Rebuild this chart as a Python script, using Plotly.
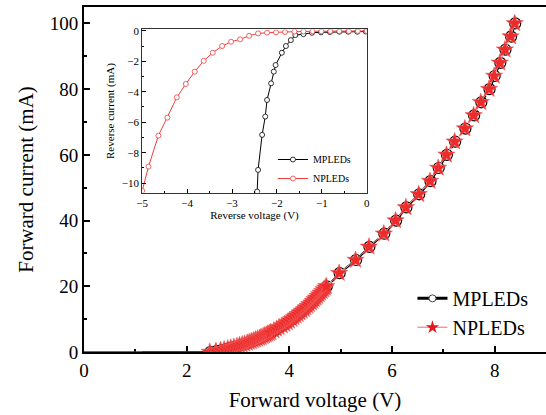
import plotly.graph_objects as go

# ---------------- Main chart: forward I-V ----------------
fwd_current = [0.0, 0.25, 0.5, 0.75, 1.0, 1.25, 1.5, 1.75, 2.0, 2.25, 2.5, 2.75, 3.0,
               3.25, 3.5, 3.75, 4.0, 4.25, 4.5, 4.75, 5.0, 5.25, 5.5, 5.75, 6.0, 6.5,
               7.0, 7.5, 8.0, 8.5, 9.0, 9.5, 10.0, 10.5, 11.0, 11.5, 12.0, 12.5, 13.0,
               13.5, 14.0, 14.5, 15.0, 15.5, 16.0, 16.5, 17.0, 17.5, 18.0, 18.5, 19.0,
               19.5, 20.0, 24.0, 28.0, 32.0, 36.0, 40.0, 44.0, 48.0, 52.0, 56.0, 60.0,
               64.0, 68.0, 72.0, 76.0, 80.0, 84.0, 88.0, 92.0, 96.0, 100.0]
np_fwd_voltage = [2.45, 2.57, 2.66, 2.73, 2.80, 2.86, 2.92, 2.98, 3.03, 3.08, 3.13, 3.18,
                  3.22, 3.26, 3.30, 3.34, 3.38, 3.42, 3.45, 3.49, 3.52, 3.55, 3.58, 3.61,
                  3.64, 3.70, 3.75, 3.80, 3.86, 3.91, 3.96, 4.00, 4.05, 4.09, 4.13, 4.17,
                  4.21, 4.25, 4.29, 4.32, 4.36, 4.39, 4.43, 4.46, 4.49, 4.52, 4.55, 4.58,
                  4.61, 4.64, 4.67, 4.70, 4.72, 4.97, 5.29, 5.55, 5.84, 6.07, 6.27, 6.52,
                  6.74, 6.90, 7.06, 7.22, 7.42, 7.59, 7.73, 7.89, 7.99, 8.10, 8.20, 8.31, 8.39]
mp_fwd_voltage = [2.46, 2.58, 2.67, 2.74, 2.81, 2.87, 2.93, 2.99, 3.04, 3.09, 3.14, 3.19,
                  3.23, 3.27, 3.31, 3.35, 3.39, 3.43, 3.46, 3.50, 3.53, 3.56, 3.59, 3.62,
                  3.65, 3.71, 3.76, 3.81, 3.87, 3.92, 3.97, 4.01, 4.06, 4.10, 4.14, 4.18,
                  4.22, 4.26, 4.30, 4.33, 4.37, 4.40, 4.44, 4.47, 4.50, 4.53, 4.56, 4.59,
                  4.62, 4.65, 4.68, 4.71, 4.73, 4.98, 5.30, 5.56, 5.85, 6.08, 6.28, 6.53,
                  6.75, 6.91, 7.07, 7.23, 7.43, 7.60, 7.74, 7.90, 8.00, 8.11, 8.21, 8.32, 8.40]
np_flat_voltage = [0.0, 2.45]
mp_flat_voltage = [1.13, 2.46]
flat_current = [0.0, 0.0]

x_ticks = [0, 2, 4, 6, 8]
y_ticks = [0, 20, 40, 60, 80, 100]

# ---------------- Inset: reverse I-V ----------------
mp_rev_voltage = [-2.44, -2.42, -2.33, -2.26, -2.22, -2.13, -2.07, -2.03, -1.89, -1.80,
                  -1.69, -1.59, -1.41, -1.22, -1.02, -0.82, -0.61, -0.41, -0.21, -0.02]
mp_rev_current = [-10.55, -9.13, -6.83, -5.63, -4.54, -3.45, -2.68, -2.25, -1.44, -1.00,
                  -0.61, -0.28, -0.22, -0.13, -0.10, -0.08, -0.06, -0.06, -0.06, -0.05]
np_rev_voltage = [-5.0, -4.86, -4.64, -4.44, -4.23, -4.03, -3.83, -3.63, -3.43, -3.22,
                  -3.02, -2.82, -2.62, -2.42, -2.22, -2.02, -1.82, -1.61, -1.41, -1.21,
                  -1.01, -0.81, -0.61, -0.40, -0.20, 0.0]
np_rev_current = [-10.5, -8.91, -6.88, -5.70, -4.37, -3.49, -2.68, -1.97, -1.44, -1.00,
                  -0.72, -0.56, -0.33, -0.17, -0.12, -0.10, -0.08, -0.05, -0.04, -0.03,
                  -0.03, -0.02, -0.02, -0.02, -0.01, -0.01]
inset_x_ticks = [-5, -4, -3, -2, -1, 0]
inset_y_ticks = [0, -2, -4, -6, -8, -10]

FONT = "Liberation Serif, Times New Roman, serif"
RED = "#ee2a2a"
PINK = "#f29a9a"

fig = go.Figure()

# flat (zero-current) portions
fig.add_trace(go.Scatter(x=mp_flat_voltage, y=flat_current, mode="lines",
                         line=dict(color="#333333", width=1.5), showlegend=False,
                         hoverinfo="skip"))
fig.add_trace(go.Scatter(x=np_flat_voltage, y=flat_current, mode="lines",
                         line=dict(color="#c00000", width=1.5), showlegend=False,
                         hoverinfo="skip"))

# main forward traces
fig.add_trace(go.Scatter(x=mp_fwd_voltage, y=fwd_current, mode="lines+markers",
                         line=dict(color="black", width=2.2, dash="dash"),
                         marker=dict(symbol="circle-open", size=11, color="black",
                                     line=dict(width=1.2, color="#222222")),
                         showlegend=False))
fig.add_trace(go.Scatter(x=np_fwd_voltage, y=fwd_current, mode="lines+markers",
                         line=dict(color=PINK, width=1),
                         marker=dict(symbol="star", size=13, color=RED,
                                     line=dict(width=0.6, color="#f06060")),
                         showlegend=False))
# legend entries (main)
fig.add_trace(go.Scatter(x=[None], y=[None], mode="lines+markers", name="MPLEDs",
                         line=dict(color="black", width=3),
                         marker=dict(symbol="circle", size=7, color="white",
                                     line=dict(width=1, color="#444444")),
                         legend="legend"))
fig.add_trace(go.Scatter(x=[None], y=[None], mode="lines+markers", name="NPLEDs",
                         line=dict(color=PINK, width=1.5),
                         marker=dict(symbol="star", size=10, color="#e8161e",
                                     line=dict(width=0)),
                         legend="legend"))

# inset traces
fig.add_trace(go.Scatter(x=mp_rev_voltage, y=mp_rev_current, mode="lines+markers",
                         name="MPLEDs", xaxis="x2", yaxis="y2",
                         line=dict(color="black", width=1),
                         marker=dict(symbol="circle", size=5, color="white",
                                     line=dict(width=0.8, color="black")),
                         legend="legend2"))
fig.add_trace(go.Scatter(x=np_rev_voltage, y=np_rev_current, mode="lines+markers",
                         name="NPLEDs", xaxis="x2", yaxis="y2",
                         line=dict(color="#f03c3c", width=1),
                         marker=dict(symbol="circle", size=5, color="white",
                                     line=dict(width=0.8, color="#f03c3c")),
                         legend="legend2"))

fig.update_layout(
    width=546, height=415,
    margin=dict(l=84, r=0, t=7, b=63),
    paper_bgcolor="white", plot_bgcolor="white",
    font=dict(family=FONT, color="black"),
    xaxis=dict(domain=[0, 1], range=[0, 9.0], tickvals=x_ticks, automargin=False,
               ticks="inside", ticklen=6, tickwidth=2, tickcolor="black",
               minor=dict(dtick=1, ticks="inside", ticklen=3, tickwidth=2, tickcolor="black"),
               showline=True, linewidth=2, linecolor="black", mirror=True,
               showgrid=False, zeroline=False, layer="below traces",
               tickfont=dict(size=19, family=FONT),
               title=dict(text="Forward voltage (V)", font=dict(size=21, family=FONT),
                          standoff=13)),
    yaxis=dict(domain=[0, 1], range=[0, 105], tickvals=y_ticks, automargin=False,
               ticks="inside", ticklen=6, tickwidth=2, tickcolor="black",
               minor=dict(dtick=10, ticks="inside", ticklen=3, tickwidth=2, tickcolor="black"),
               showline=True, linewidth=2, linecolor="black", mirror=False,
               showgrid=False, zeroline=False, layer="below traces",
               tickfont=dict(size=19, family=FONT),
               title=dict(text="Forward current (mA)", font=dict(size=21, family=FONT),
                          standoff=10)),
    xaxis2=dict(domain=[0.126, 0.612], anchor="y2", range=[-5, 0], tickvals=inset_x_ticks,
                automargin=False,
                ticktext=["\u22125", "\u22124", "\u22123", "\u22122", "\u22121", "0"],
                ticks="inside", ticklen=4, tickwidth=1, tickcolor="black",
                minor=dict(dtick=0.5, ticks="inside", ticklen=2, tickwidth=1, tickcolor="black"),
                showline=True, linewidth=1, linecolor="#333333", mirror=True,
                showgrid=False, zeroline=False,
                tickfont=dict(size=11, family=FONT),
                title=dict(text="Reverse voltage (V)", font=dict(size=11, family=FONT),
                           standoff=3)),
    yaxis2=dict(domain=[0.462, 0.935], anchor="x2", range=[-10.62, 0.09],
                tickvals=inset_y_ticks, automargin=False,
                ticktext=["0", "\u22122", "\u22124", "\u22126", "\u22128", "\u221210"],
                ticks="inside", ticklen=4, tickwidth=1, tickcolor="black",
                minor=dict(dtick=1, ticks="inside", ticklen=2, tickwidth=1, tickcolor="black"),
                showline=True, linewidth=1, linecolor="#333333", mirror=True,
                showgrid=False, zeroline=False,
                tickfont=dict(size=11, family=FONT),
                title=dict(text="Reverse current (mA)", font=dict(size=11, family=FONT),
                           standoff=4)),
    legend=dict(x=0.711, y=0.212, xanchor="left", yanchor="top",
                font=dict(size=20, family=FONT), bgcolor="rgba(0,0,0,0)",
                tracegroupgap=0, itemwidth=30),
    legend2=dict(x=0.409, y=0.60, xanchor="left", yanchor="top",
                 font=dict(size=10, family=FONT), bgcolor="rgba(0,0,0,0)",
                 tracegroupgap=0, itemwidth=30),
)

fig.write_html("out.html", config={"displayModeBar": False},
               post_script="document.body.style.margin='0';document.body.style.padding='0';")
